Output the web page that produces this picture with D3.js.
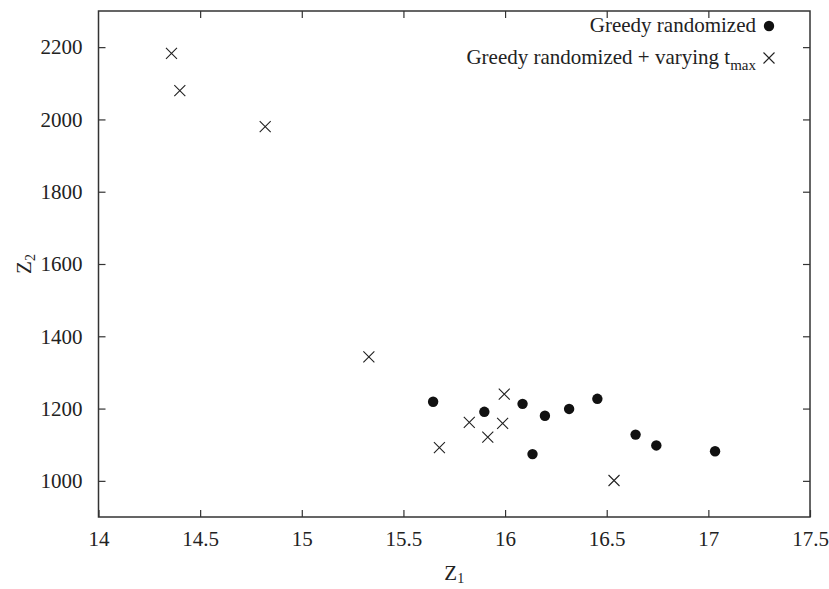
<!DOCTYPE html>
<html>
<head>
<meta charset="utf-8">
<script src="https://cdn.jsdelivr.net/npm/d3@7"></script>
<style>
  body { margin: 0; background: #fff; }
  svg { display: block; }
  text { font-family: "Liberation Serif", "Times New Roman", serif; fill: #222; }
</style>
</head>
<body>
<div id="chart"></div>
<script>
// Greedy randomized (filled dots)
const greedyZ1 = [15.646, 15.898, 16.086, 16.196, 16.135, 16.315, 16.454, 16.642, 16.744, 17.033];
const greedyZ2 = [1219, 1191, 1213, 1180, 1074, 1199, 1227, 1128, 1098, 1082];

// Greedy randomized + varying t_max (crosses)
const varyZ1 = [14.359, 14.40, 14.82, 15.33, 15.677, 15.824, 15.915, 15.996, 15.988, 16.536];
const varyZ2 = [2183, 2080, 1980, 1343, 1092, 1162, 1121, 1240, 1159, 1001];

const xTicks = [14, 14.5, 15, 15.5, 16, 16.5, 17, 17.5];
const yTicks = [1000, 1200, 1400, 1600, 1800, 2000, 2200];

const W = 829, H = 589;
const plotLeft = 98.5, plotRight = 810, plotTop = 11, plotBottom = 517;
const fontSize = 21;
const tick = 7;

const svg = d3.select('#chart')
    .append('svg')
    .attr('width', W)
    .attr('height', H);

const x = d3.scaleLinear().domain([14, 17.5]).range([plotLeft, plotRight]);
const y = d3.scaleLinear().domain([900, 2300]).range([plotBottom, plotTop]);

function styleAxis(g) {
    g.select('.domain').remove();
    g.selectAll('line').attr('stroke', '#333').attr('stroke-width', 1.2);
    g.selectAll('text')
        .attr('font-family', '"Liberation Serif", "Times New Roman", serif')
        .attr('font-size', fontSize)
        .attr('fill', '#222');
}

// bottom axis with labels
svg.append('g')
    .attr('transform', `translate(0, ${plotBottom})`)
    .call(d3.axisBottom(x).tickValues(xTicks).tickFormat(d3.format('')).tickSize(-tick).tickPadding(14))
    .call(styleAxis);

// top axis, ticks only
svg.append('g')
    .attr('transform', `translate(0, ${plotTop})`)
    .call(d3.axisTop(x).tickValues(xTicks.slice(1, -1)).tickFormat('').tickSize(-tick))
    .call(styleAxis);

// left axis with labels
svg.append('g')
    .attr('transform', `translate(${plotLeft}, 0)`)
    .call(d3.axisLeft(y).tickValues(yTicks).tickFormat(d3.format('')).tickSize(-tick).tickPadding(16))
    .call(styleAxis);

// right axis, ticks only
svg.append('g')
    .attr('transform', `translate(${plotRight}, 0)`)
    .call(d3.axisRight(y).tickValues(yTicks).tickFormat('').tickSize(-tick))
    .call(styleAxis);

// frame
svg.append('rect')
    .attr('x', plotLeft)
    .attr('y', plotTop)
    .attr('width', plotRight - plotLeft)
    .attr('height', plotBottom - plotTop)
    .attr('fill', 'none')
    .attr('stroke', '#333')
    .attr('stroke-width', 1.5);

// axis titles
const xTitle = svg.append('text')
    .attr('x', (plotLeft + plotRight) / 2)
    .attr('y', 580)
    .attr('text-anchor', 'middle')
    .attr('font-size', fontSize)
    .text('Z');
xTitle.append('tspan').attr('font-size', 14).attr('dy', 3).text('1');

const yTitle = svg.append('text')
    .attr('transform', `translate(31, ${(plotTop + plotBottom) / 2}) rotate(-90)`)
    .attr('text-anchor', 'middle')
    .attr('font-size', fontSize)
    .text('Z');
yTitle.append('tspan').attr('font-size', 14).attr('dy', 4).text('2');

const crossPath = 'M-5.5,-5.5L5.5,5.5M-5.5,5.5L5.5,-5.5';

// points
const greedy = greedyZ1.map((v, i) => ({ z1: v, z2: greedyZ2[i] }));
const vary = varyZ1.map((v, i) => ({ z1: v, z2: varyZ2[i] }));

svg.append('g')
    .selectAll('circle')
    .data(greedy)
    .enter()
    .append('circle')
    .attr('cx', d => x(d.z1))
    .attr('cy', d => y(d.z2))
    .attr('r', 5.2)
    .attr('fill', '#111');

svg.append('g')
    .selectAll('path')
    .data(vary)
    .enter()
    .append('path')
    .attr('transform', d => `translate(${x(d.z1)}, ${y(d.z2)})`)
    .attr('d', crossPath)
    .attr('stroke', '#222')
    .attr('stroke-width', 1.1)
    .attr('fill', 'none');

// legend
svg.append('text')
    .attr('x', 756)
    .attr('y', 32)
    .attr('text-anchor', 'end')
    .attr('font-size', fontSize)
    .text('Greedy randomized');
svg.append('circle')
    .attr('cx', 769)
    .attr('cy', 26)
    .attr('r', 5.2)
    .attr('fill', '#111');

const leg2 = svg.append('text')
    .attr('x', 756)
    .attr('y', 64)
    .attr('text-anchor', 'end')
    .attr('font-size', fontSize)
    .text('Greedy randomized + varying t');
leg2.append('tspan').attr('font-size', 15).attr('dy', 6).text('max');
svg.append('path')
    .attr('transform', 'translate(769, 58)')
    .attr('d', crossPath)
    .attr('stroke', '#222')
    .attr('stroke-width', 1.1)
    .attr('fill', 'none');
</script>
</body>
</html>
